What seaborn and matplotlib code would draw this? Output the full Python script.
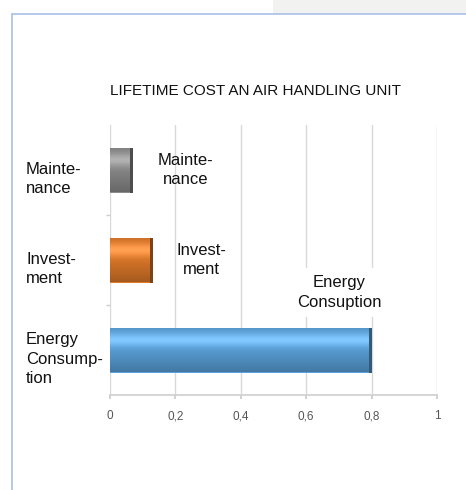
import matplotlib
matplotlib.use("Agg")
import matplotlib.pyplot as plt
import matplotlib.patches as mpatches
import matplotlib.transforms as mtransforms
import numpy as np
import pandas as pd
import seaborn as sns

categories = ["Maintenance", "Investment", "Energy Consumption"]
tick_names = ["Mainte-\nnance", "Invest-\nment", "Energy\nConsump-\ntion"]
values = [0.07, 0.13, 0.80]
bar_labels = ["Mainte-\nnance", "Invest-\nment", "Energy\nConsuption"]
colors = ["#8c8c8c", "#e07a2a", "#5ba3dc"]
xticks = [0, 0.2, 0.4, 0.6, 0.8, 1.0]
xtick_labels = ["0", "0,2", "0,4", "0,6", "0,8", "1"]
title = "LIFETIME COST AN AIR HANDLING UNIT"

sns.set_theme(style="white")
plt.rcParams["font.family"] = ["Liberation Sans", "DejaVu Sans"]

df = pd.DataFrame({"cat": categories, "val": values})

fig = plt.figure(figsize=(4.66, 4.90), dpi=100)
# page decorations
fig.patches.append(mpatches.Rectangle((273/466, 1-14/490), 1, 14/490, transform=fig.transFigure,
                                      facecolor="#f2f2f0", edgecolor="none", zorder=0))
fig.add_artist(plt.Line2D([12/466, 1], [1-14/490, 1-14/490], transform=fig.transFigure,
                          color="#a9c0e8", lw=1.2))
fig.add_artist(plt.Line2D([12/466, 12/466], [0, 1-14/490], transform=fig.transFigure,
                          color="#a9c0e8", lw=1.2))

ax = fig.add_axes([110/466, 1-395/490, (437-110)/466, (395-125)/490])
sns.barplot(data=df, x="val", y="cat", order=categories, palette=colors, hue="cat",
            legend=False, width=0.5, ax=ax, saturation=1, edgecolor="none", zorder=3)

# 3D-like gradient overlay on each bar
for patch, c in zip(ax.patches, colors):
    x0, y0 = patch.get_x(), patch.get_y()
    w, h = patch.get_width(), patch.get_height()
    base = np.array(matplotlib.colors.to_rgb(c))
    n = 64
    t = np.linspace(0, 1, n)[:, None]
    shade = 1 - 0.40 * np.abs(t - 0.3) ** 1.2
    light = 0.15 * np.exp(-((t - 0.28) / 0.15) ** 2)
    img = np.clip(base[None, :] * shade + light, 0, 1)
    img = np.repeat(img[:, None, :], 2, axis=1)
    im = ax.imshow(img, extent=[x0, x0 + w, y0 + h, y0], aspect="auto", zorder=4,
                   interpolation="bilinear")
    im.set_clip_path(patch)
    ax.add_patch(mpatches.Rectangle((x0 + w - 0.008, y0), 0.008, h, facecolor=base * 0.55,
                                    edgecolor="none", zorder=5))

ax.set_xlim(0, 1)
ax.set_ylim(2.5, -0.5)
ax.set_xticks(xticks)
ax.set_xticklabels(xtick_labels, fontsize=8.5, color="#555555")
ax.set_yticks(range(len(categories)))
ax.set_yticklabels([])
ax.tick_params(axis="y", length=0)
ax.set_yticks([0.5, 1.5], minor=True)
ax.tick_params(axis="y", which="minor", length=3, color="#cccccc", width=1, left=True)
ax.tick_params(axis="x", length=3, color="#cccccc", bottom=True, pad=8)
ax.set_xlabel("")
ax.set_ylabel("")
ax.grid(axis="x", color="#d9d9d9", lw=1, zorder=0)
for s in ["top", "right", "left"]:
    ax.spines[s].set_visible(False)
ax.spines["bottom"].set_color("#d0d0d0")

# category names on the left
trans = mtransforms.blended_transform_factory(fig.transFigure, ax.transData)
for i, name in enumerate(tick_names):
    ax.text(26/466, i + 0.1, name, transform=trans, ha="left", va="center",
            fontsize=12, color="#111111", linespacing=1.4, clip_on=False)

# data labels
label_x = [0.23, 0.28, 0.70]
label_y = [0.0, 1.0, 2 - 0.64]
for lab, lx, ly, i in zip(bar_labels, label_x, label_y, range(3)):
    ax.text(lx, ly, lab, ha="center", va="center", fontsize=12,
            color="#111111", zorder=6, linespacing=1.4,
            bbox=dict(facecolor="white", edgecolor="none", pad=5) if i == 2 else None)

fig.text(256/466, 1-91/490, title, ha="center", va="center", fontsize=11, color="#111111")

fig.savefig("out.png", dpi=100)
